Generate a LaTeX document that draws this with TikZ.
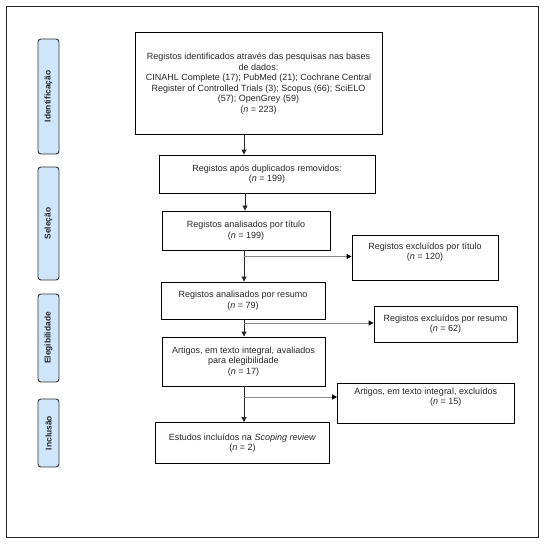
\documentclass[tikz,border=0pt]{standalone}
\usepackage{fontspec}
\setmainfont{Liberation Sans}
\usetikzlibrary{arrows.meta,calc}
\definecolor{phase}{HTML}{CFE6FA}
\definecolor{hline}{HTML}{8A8A8A}
\tikzset{
  box/.style={draw=black, line width=0.9pt, inner sep=0pt, align=center,
    font=\fontsize{9}{10.5}\selectfont, text=black!85},
  phasebox/.style={draw=black!80, line width=0.9pt, fill=phase, rounded corners=3pt,
    inner sep=0pt, minimum width=21pt, font=\bfseries\fontsize{8.4}{9}\selectfont, text=black!85},
  varr/.style={draw=black!85, line width=0.9pt, -{Triangle[length=5pt,width=5pt]}},
  harr/.style={draw=hline, line width=1pt, -{Triangle[length=5pt,width=5pt,fill=black,color=black]}},
}
\begin{document}
\begin{tikzpicture}[x=1pt,y=-1pt]
\useasboundingbox (0,0) rectangle (544,544);
\node[draw=black!85, line width=0.9pt, minimum width=532pt, minimum height=531pt, inner sep=0pt] (frame) at (272,271.5) {};

% phase labels
\node[phasebox, minimum height=115pt] (p1) at (48.5,96.5) {\rotatebox{90}{Identificação}};
\node[phasebox, minimum height=113pt] (p2) at (48.5,223.5) {\rotatebox{90}{Seleção}};
\node[phasebox, minimum height=88pt] (p3) at (48.5,338) {\rotatebox{90}{Elegibilidade}};
\node[phasebox, minimum height=68pt] (p4) at (48.5,433) {\rotatebox{90}{Inclusão}};

% main boxes
\node[box, minimum width=247pt, minimum height=102pt] (b1) at (258.5,83)
  {\\[-3pt]Registos identificados através das pesquisas nas bases\\de dados:\\CINAHL Complete (17); PubMed (21); Cochrane Central\\Register of Controlled Trials (3); Scopus (66); SciELO\\(57); OpenGrey (59)\\(\textit{n} = 223)};
\node[box, minimum width=216pt, minimum height=38pt] (b2) at (267,174)
  {Registos após duplicados removidos:\\(\textit{n} = 199)};
\node[box, minimum width=168pt, minimum height=39pt] (b3) at (246,230.5)
  {Registos analisados por título\\(\textit{n} = 199)};
\node[box, minimum width=164pt, minimum height=37pt] (b4) at (243,300.5)
  {Registos analisados por resumo\\(\textit{n} = 79)};
\node[box, minimum width=163pt, minimum height=49pt] (b5) at (243.5,361.5)
  {Artigos, em texto integral, avaliados\\para elegibilidade\\(\textit{n} = 17)};
\node[box, minimum width=174pt, minimum height=41pt] (b6) at (242.5,443)
  {Estudos incluídos na \textit{Scoping review}\\(\textit{n} = 2)};

% exclusion boxes
\node[box, minimum width=146pt, minimum height=45pt] (e1) at (425,257.5)
  {Registos excluídos por título\\(\textit{n} = 120)\\[2pt]};
\node[box, minimum width=143pt, minimum height=36pt] (e2) at (445.5,324)
  {Registos excluídos por resumo\\(\textit{n} = 62)};
\node[box, minimum width=176.5pt, minimum height=40pt] (e3) at (425.75,403)
  {Artigos, em texto integral, excluídos\\\hspace*{40pt}(\textit{n} = 15)\\[3pt]};

% spine and junctions
\coordinate (s1) at (244,0);
\coordinate (s2) at (245,0);
\coordinate (j1) at (244,256.5);
\coordinate (j2) at (244,323);
\coordinate (j3) at (244,397);

\draw[varr] (b1.south -| s1) -- (b2.north -| s1);
\draw[varr] (b2.south -| s2) -- (b3.north -| s2);
\draw[varr] (b3.south -| s1) -- (b4.north -| s1);
\draw[varr] (b4.south -| s1) -- (b5.north -| s1);
\draw[varr] (b5.south -| s1) -- (b6.north -| s1);

\draw[harr] (j1) -- (j1 -| e1.west);
\draw[harr] (j2) -- (j2 -| e2.west);
\draw[harr] (j3) -- (j3 -| e3.west);
\end{tikzpicture}
\end{document}
